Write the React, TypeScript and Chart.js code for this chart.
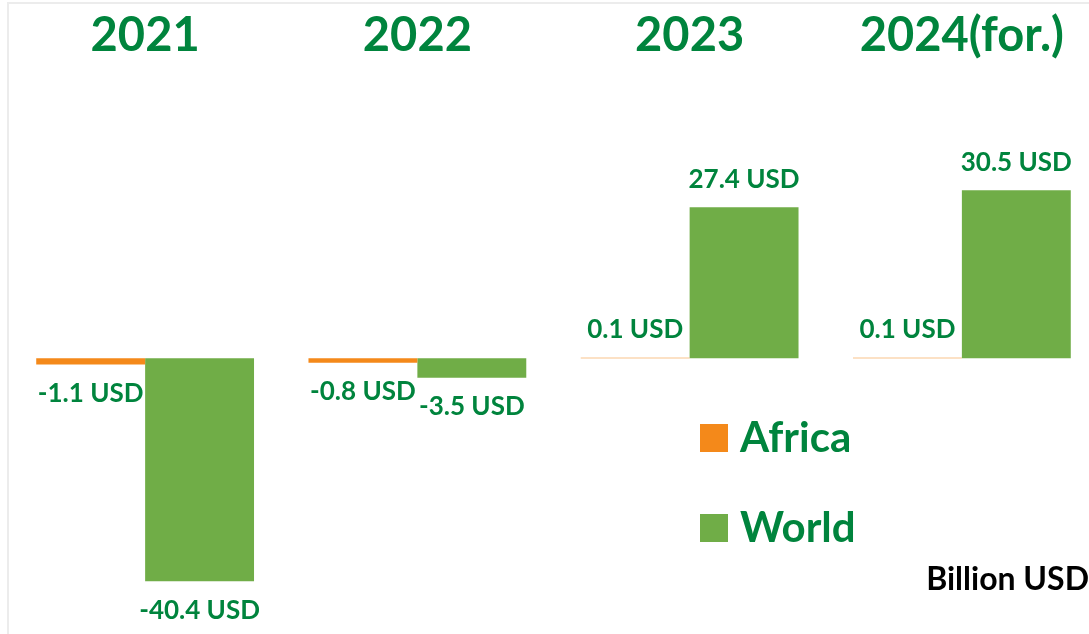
import React, { useEffect, useRef } from "react";
import { Chart, registerables } from "chart.js";

Chart.register(...registerables);

const categories = ["2021", "2022", "2023", "2024(for.)"];
const africaValues = [-1.1, -0.8, 0.1, 0.1];
const worldValues = [-40.4, -3.5, 27.4, 30.5];
const seriesNames = ["Africa", "World"];

const DARK_GREEN = "#00843D";
const BAR_GREEN = "#70AD47";
const ORANGE = "#F4891A";
const FONT = "Lato, 'Open Sans', sans-serif";
const W = 1100;
const H = 634;

const valueLabelPlugin = {
  id: "valueLabels",
  afterDatasetsDraw(chart: any) {
    const ctx = chart.ctx;
    ctx.save();
    ctx.font = `bold 26px ${FONT}`;
    ctx.fillStyle = DARK_GREEN;
    ctx.textAlign = "center";
    ctx.textBaseline = "middle";
    chart.data.datasets.forEach((ds: any, di: number) => {
      const meta = chart.getDatasetMeta(di);
      meta.data.forEach((el: any, i: number) => {
        const v = ds.data[i] as number;
        const txt = `${v.toFixed(1)} USD`;
        const y = v >= 0 ? el.y - 28 : el.y + 29;
        ctx.fillText(txt, el.x, y);
      });
    });
    ctx.restore();
  },
};

const legendPlugin = {
  id: "customLegend",
  afterDraw(chart: any) {
    const ctx = chart.ctx;
    ctx.save();
    const x0 = 700;
    const ys = [438, 528];
    chart.data.datasets.forEach((ds: any, di: number) => {
      const cy = ys[di];
      ctx.fillStyle = ds.backgroundColor as string;
      ctx.fillRect(x0, cy - 14, 28, 28);
      ctx.font = `bold 42px ${FONT}`;
      ctx.fillStyle = DARK_GREEN;
      ctx.textAlign = "left";
      ctx.textBaseline = "middle";
      ctx.fillText(ds.label, x0 + 40, cy);
    });
    ctx.restore();
  },
};

export default function App() {
  const ref = useRef<HTMLCanvasElement | null>(null);

  useEffect(() => {
    document.body.style.margin = "0";
    document.body.style.overflow = "hidden";
    document.documentElement.style.overflow = "hidden";
    if (!ref.current) return;
    const chart = new Chart(ref.current, {
      type: "bar",
      data: {
        labels: categories,
        datasets: [
          {
            label: seriesNames[0],
            data: africaValues,
            backgroundColor: ORANGE,
            categoryPercentage: 0.8,
            barPercentage: 1.0,
          },
          {
            label: seriesNames[1],
            data: worldValues,
            backgroundColor: BAR_GREEN,
            categoryPercentage: 0.8,
            barPercentage: 1.0,
          },
        ],
      },
      options: {
        responsive: false,
        animation: false,
        layout: { padding: { left: 9, right: 2, top: 8, bottom: 27.5 } },
        plugins: {
          legend: { display: false },
          tooltip: { enabled: false },
        },
        scales: {
          x: {
            position: "top",
            grid: { display: false, drawTicks: false },
            border: { display: false },
            ticks: {
              color: DARK_GREEN,
              font: { family: FONT, size: 47, weight: "bold" },
              padding: 0,
              maxRotation: 0,
            },
          },
          y: {
            display: false,
            min: -45,
            max: 53.3,
          },
        },
      },
      plugins: [valueLabelPlugin, legendPlugin],
    });
    return () => chart.destroy();
  }, []);

  return (
    <div style={{ position: "relative", width: W, height: H, background: "#fff" }}>
      <div style={{ position: "absolute", left: 7, top: 2, right: 0, height: 2, background: "#ececec" }} />
      <div style={{ position: "absolute", left: 7, top: 2, bottom: 0, width: 2, background: "#ececec" }} />
      <canvas ref={ref} width={W} height={H} style={{ position: "absolute", left: 0, top: 0, width: W, height: H }} />
      <div
        style={{
          position: "absolute",
          right: W - 1089,
          top: 559,
          font: `bold 32px ${FONT}`,
          lineHeight: "38px",
          color: "#000",
          whiteSpace: "nowrap",
        }}
      >
        Billion USD
      </div>
    </div>
  );
}
